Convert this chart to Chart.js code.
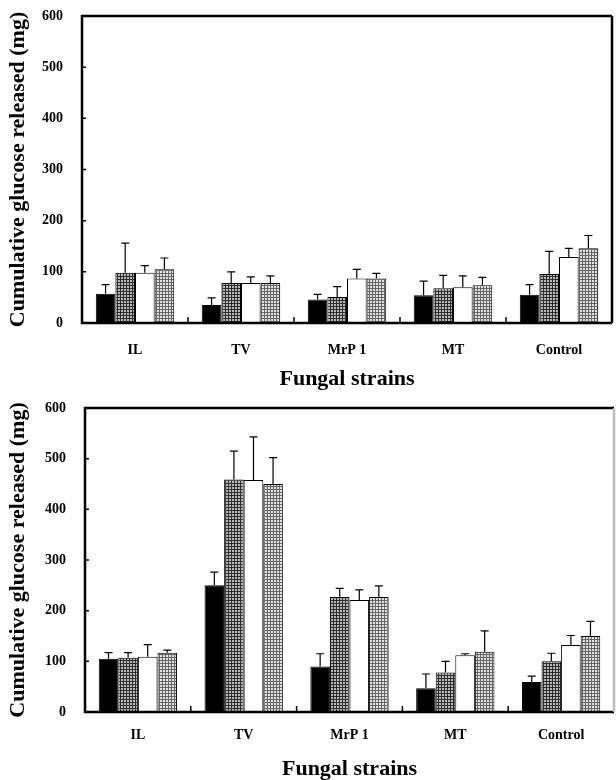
<!DOCTYPE html>
<html lang="en">
<head>
    <meta charset="UTF-8">
    <title>Cumulative glucose released by fungal strains</title>
    <style>
        body {
            margin: 0;
            padding: 0;
            background-color: #fff;
        }

        .panel {
            width: 616px;
            height: 390px;
        }
    </style>
</head>
<body>
    <!-- Upper panel -->
    <div class="panel"><canvas id="topChart" width="616" height="390"></canvas></div>
    <!-- Lower panel -->
    <div class="panel"><canvas id="bottomChart" width="616" height="390"></canvas></div>

    <script src="https://cdn.jsdelivr.net/npm/chart.js"></script>
    <script>
        // Data (mg), one array per bar series
        const strains = ['IL', 'TV', 'MrP 1', 'MT', 'Control'];
        const yTicks = [0, 100, 200, 300, 400, 500, 600];

        // upper panel
        const topBlack = [57, 35, 46, 54, 55];
        const topDark = [98, 78, 51, 68, 96];
        const topWhite = [98, 78, 87, 70, 129];
        const topLight = [105, 78, 87, 74, 146];
        const topBlackErr = [18, 14, 10, 28, 20];
        const topDarkErr = [58, 22, 20, 25, 44];
        const topWhiteErr = [14, 12, 18, 22, 17];
        const topLightErr = [22, 14, 10, 15, 25];

        // lower panel
        const bottomBlack = [105, 250, 90, 47, 59];
        const bottomDark = [107, 459, 227, 78, 100];
        const bottomWhite = [109, 458, 221, 112, 132];
        const bottomLight = [117, 450, 227, 119, 150];
        const bottomBlackErr = [12, 26, 25, 28, 12];
        const bottomDarkErr = [10, 56, 17, 22, 16];
        const bottomWhiteErr = [24, 85, 20, 3, 19];
        const bottomLightErr = [5, 52, 22, 41, 29];

        const serif = "'Liberation Serif', 'DejaVu Serif', serif";

        // Cross-hatched fill like the printed bars
        function hatch(ctx, bg, line) {
            const c = document.createElement('canvas');
            c.width = 3;
            c.height = 3;
            const g = c.getContext('2d');
            g.fillStyle = bg;
            g.fillRect(0, 0, 3, 3);
            g.fillStyle = line;
            g.fillRect(0, 0, 3, 1);
            g.fillRect(0, 0, 1, 3);
            return ctx.createPattern(c, 'repeat');
        }

        // Upward error bars with caps, plus the box frame and inner tick marks
        const framePlugin = {
            id: 'frame',
            afterDatasetsDraw(chart) {
                const ctx = chart.ctx;
                const y = chart.scales.y;
                ctx.save();
                ctx.strokeStyle = '#000';
                ctx.lineWidth = 1.2;
                chart.data.datasets.forEach((ds, i) => {
                    chart.getDatasetMeta(i).data.forEach((bar, j) => {
                        const top = y.getPixelForValue(ds.data[j]);
                        const end = y.getPixelForValue(ds.data[j] + ds.errors[j]);
                        ctx.beginPath();
                        ctx.moveTo(bar.x, top);
                        ctx.lineTo(bar.x, end);
                        ctx.moveTo(bar.x - 4, end);
                        ctx.lineTo(bar.x + 4, end);
                        ctx.stroke();
                    });
                });
                ctx.restore();
            },
            afterDraw(chart) {
                const ctx = chart.ctx;
                const a = chart.chartArea;
                const x = chart.scales.x;
                const y = chart.scales.y;
                ctx.save();
                ctx.strokeStyle = '#000';
                ctx.lineWidth = 2.5;
                ctx.beginPath();
                ctx.moveTo(a.right, a.top);
                ctx.lineTo(a.left, a.top);
                ctx.lineTo(a.left, a.bottom);
                ctx.lineTo(a.right, a.bottom);
                ctx.stroke();
                ctx.strokeStyle = chart.options.plugins.frame.rightColor;
                ctx.beginPath();
                ctx.moveTo(a.right, a.top);
                ctx.lineTo(a.right, a.bottom);
                ctx.stroke();

                ctx.strokeStyle = '#000';
                ctx.lineWidth = 1.5;
                ctx.beginPath();
                yTicks.forEach(v => {
                    const py = y.getPixelForValue(v);
                    ctx.moveTo(a.left, py);
                    ctx.lineTo(a.left + 4, py);
                });
                for (let i = 1; i < strains.length; i++) {
                    const px = (x.getPixelForValue(i - 1) + x.getPixelForValue(i)) / 2;
                    ctx.moveTo(px, a.bottom);
                    ctx.lineTo(px, a.bottom - 6);
                }
                ctx.stroke();
                ctx.restore();
            }
        };

        function makeChart(id, series, errors, box) {
            const ctx = document.getElementById(id).getContext('2d');
            const fills = ['#000', hatch(ctx, '#b8b8b8', '#2e2e2e'), '#fff', hatch(ctx, '#e2e2e2', '#666')];
            return new Chart(ctx, {
                type: 'bar',
                data: {
                    labels: strains,
                    datasets: series.map((s, i) => ({
                        label: 'Series ' + (i + 1),
                        data: s,
                        errors: errors[i],
                        backgroundColor: fills[i],
                        borderColor: '#000',
                        borderWidth: 1,
                        barPercentage: 1,
                        categoryPercentage: 0.74
                    }))
                },
                options: {
                    responsive: false,
                    animation: false,
                    layout: {
                        padding: { top: box.top, right: box.right, left: 0, bottom: 0 }
                    },
                    plugins: {
                        legend: { display: false },
                        tooltip: { enabled: false },
                        frame: { rightColor: box.rightColor }
                    },
                    scales: {
                        x: {
                            grid: { display: false, drawTicks: false },
                            border: { display: false },
                            ticks: {
                                color: '#000',
                                padding: box.xPad,
                                font: { family: serif, size: 14, weight: 'bold' }
                            },
                            title: {
                                display: true,
                                text: 'Fungal strains',
                                color: '#000',
                                padding: { top: 0, bottom: 0 },
                                font: { family: serif, size: 22, weight: 'bold', lineHeight: 1 }
                            },
                            afterFit: s => { s.height = box.xHeight; }
                        },
                        y: {
                            min: 0,
                            max: 600,
                            grid: { display: false, drawTicks: false },
                            border: { display: false },
                            afterBuildTicks: s => { s.ticks = yTicks.map(v => ({ value: v })); },
                            ticks: {
                                color: '#000',
                                padding: 19,
                                font: { family: serif, size: 14, weight: 'bold' }
                            },
                            title: {
                                display: true,
                                text: 'Cumulative glucose released (mg)',
                                color: '#000',
                                padding: { top: 5, bottom: 0 },
                                font: { family: serif, size: 22, weight: 'bold' }
                            },
                            afterFit: s => {
                                s.width = box.left;
                                s.paddingTop = 0;
                                s.paddingBottom = 0;
                            }
                        }
                    }
                },
                plugins: [framePlugin]
            });
        }

        makeChart('topChart',
            [topBlack, topDark, topWhite, topLight],
            [topBlackErr, topDarkErr, topWhiteErr, topLightErr],
            { top: 16, right: 4, left: 82, xHeight: 67, xPad: 19, rightColor: '#000' });

        makeChart('bottomChart',
            [bottomBlack, bottomDark, bottomWhite, bottomLight],
            [bottomBlackErr, bottomDarkErr, bottomWhiteErr, bottomLightErr],
            { top: 18, right: 2, left: 85, xHeight: 68, xPad: 15, rightColor: '#bbb' });
    </script>
</body>
</html>
